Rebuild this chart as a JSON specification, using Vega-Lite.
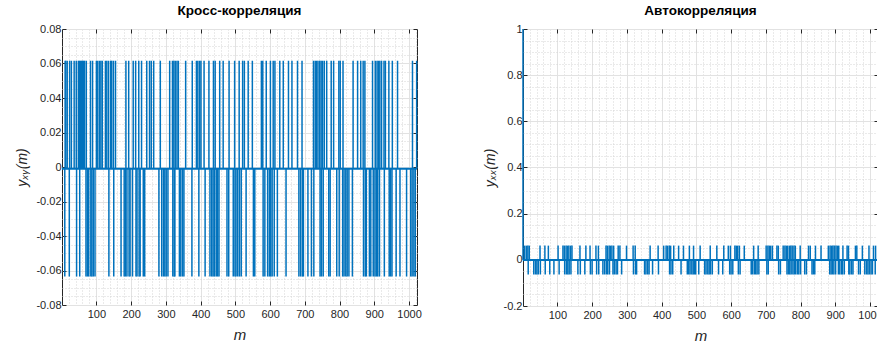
{
"$schema": "https://vega.github.io/schema/vega-lite/v6.json",
"padding": {"left": 15, "top": 3, "right": 0, "bottom": 0},
"spacing": 60,
"config": {
  "font": "Liberation Sans",
  "view": {"stroke": "#262626", "strokeWidth": 1},
  "axis": {"labelFont": "Liberation Sans", "labelFontSize": 11, "labelColor": "#262626", "tickColor": "#262626", "titleColor": "#262626", "titleFontWeight": "normal", "titleFontStyle": "italic", "domain": false, "labelFlush": false, "labelOverlap": false},
  "title": {"fontSize": 13.5, "fontWeight": "bold", "color": "#000000", "offset": 6, "font": "Liberation Sans"}
},
"datasets": {
"xy": [
{"m":1,"y":-0.001},{"m":1023,"y":-0.001},
{"m":10,"y":0.0616},{"m":12,"y":0.0616},{"m":16,"y":0.0616},{"m":23,"y":0.0616},{"m":28,"y":0.0616},{"m":36,"y":0.0616},{"m":42,"y":0.0616},{"m":48,"y":0.0616},{"m":51,"y":0.0616},{"m":54,"y":0.0616},{"m":57,"y":0.0616},{"m":60,"y":0.0616},{"m":63,"y":0.0616},{"m":66,"y":0.0616},{"m":71,"y":0.0616},{"m":83,"y":0.0616},{"m":89,"y":0.0616},{"m":100,"y":0.0616},{"m":104,"y":0.0616},{"m":109,"y":0.0616},{"m":113,"y":0.0616},{"m":117,"y":0.0616},{"m":126,"y":0.0616},{"m":130,"y":0.0616},{"m":135,"y":0.0616},{"m":141,"y":0.0616},{"m":144,"y":0.0616},{"m":149,"y":0.0616},{"m":155,"y":0.0616},{"m":185,"y":0.0616},{"m":193,"y":0.0616},{"m":206,"y":0.0616},{"m":213,"y":0.0616},{"m":222,"y":0.0616},{"m":230,"y":0.0616},{"m":245,"y":0.0616},{"m":253,"y":0.0616},{"m":258,"y":0.0616},{"m":265,"y":0.0616},{"m":284,"y":0.0616},{"m":311,"y":0.0616},{"m":319,"y":0.0616},{"m":323,"y":0.0616},{"m":327,"y":0.0616},{"m":332,"y":0.0616},{"m":336,"y":0.0616},{"m":357,"y":0.0616},{"m":376,"y":0.0616},{"m":388,"y":0.0616},{"m":392,"y":0.0616},{"m":397,"y":0.0616},{"m":401,"y":0.0616},{"m":410,"y":0.0616},{"m":424,"y":0.0616},{"m":437,"y":0.0616},{"m":442,"y":0.0616},{"m":455,"y":0.0616},{"m":465,"y":0.0616},{"m":482,"y":0.0616},{"m":498,"y":0.0616},{"m":511,"y":0.0616},{"m":521,"y":0.0616},{"m":526,"y":0.0616},{"m":537,"y":0.0616},{"m":549,"y":0.0616},{"m":575,"y":0.0616},{"m":579,"y":0.0616},{"m":589,"y":0.0616},{"m":601,"y":0.0616},{"m":609,"y":0.0616},{"m":614,"y":0.0616},{"m":628,"y":0.0616},{"m":638,"y":0.0616},{"m":653,"y":0.0616},{"m":663,"y":0.0616},{"m":679,"y":0.0616},{"m":692,"y":0.0616},{"m":725,"y":0.0616},{"m":730,"y":0.0616},{"m":734,"y":0.0616},{"m":738,"y":0.0616},{"m":743,"y":0.0616},{"m":747,"y":0.0616},{"m":751,"y":0.0616},{"m":756,"y":0.0616},{"m":763,"y":0.0616},{"m":776,"y":0.0616},{"m":783,"y":0.0616},{"m":798,"y":0.0616},{"m":802,"y":0.0616},{"m":810,"y":0.0616},{"m":839,"y":0.0616},{"m":852,"y":0.0616},{"m":861,"y":0.0616},{"m":868,"y":0.0616},{"m":873,"y":0.0616},{"m":895,"y":0.0616},{"m":903,"y":0.0616},{"m":908,"y":0.0616},{"m":912,"y":0.0616},{"m":916,"y":0.0616},{"m":921,"y":0.0616},{"m":928,"y":0.0616},{"m":932,"y":0.0616},{"m":942,"y":0.0616},{"m":952,"y":0.0616},{"m":967,"y":0.0616},{"m":1010,"y":0.0616},{"m":1022,"y":0.0616},
{"m":9,"y":-0.0635},{"m":22,"y":-0.0635},{"m":43,"y":-0.0635},{"m":52,"y":-0.0635},{"m":70,"y":-0.0635},{"m":74,"y":-0.0635},{"m":78,"y":-0.0635},{"m":84,"y":-0.0635},{"m":87,"y":-0.0635},{"m":91,"y":-0.0635},{"m":96,"y":-0.0635},{"m":136,"y":-0.0635},{"m":150,"y":-0.0635},{"m":171,"y":-0.0635},{"m":180,"y":-0.0635},{"m":184,"y":-0.0635},{"m":188,"y":-0.0635},{"m":194,"y":-0.0635},{"m":197,"y":-0.0635},{"m":204,"y":-0.0635},{"m":214,"y":-0.0635},{"m":217,"y":-0.0635},{"m":223,"y":-0.0635},{"m":226,"y":-0.0635},{"m":235,"y":-0.0635},{"m":239,"y":-0.0635},{"m":280,"y":-0.0635},{"m":288,"y":-0.0635},{"m":293,"y":-0.0635},{"m":297,"y":-0.0635},{"m":301,"y":-0.0635},{"m":306,"y":-0.0635},{"m":320,"y":-0.0635},{"m":324,"y":-0.0635},{"m":326,"y":-0.0635},{"m":339,"y":-0.0635},{"m":343,"y":-0.0635},{"m":348,"y":-0.0635},{"m":352,"y":-0.0635},{"m":375,"y":-0.0635},{"m":395,"y":-0.0635},{"m":413,"y":-0.0635},{"m":427,"y":-0.0635},{"m":432,"y":-0.0635},{"m":436,"y":-0.0635},{"m":440,"y":-0.0635},{"m":445,"y":-0.0635},{"m":449,"y":-0.0635},{"m":453,"y":-0.0635},{"m":476,"y":-0.0635},{"m":481,"y":-0.0635},{"m":494,"y":-0.0635},{"m":499,"y":-0.0635},{"m":502,"y":-0.0635},{"m":507,"y":-0.0635},{"m":512,"y":-0.0635},{"m":517,"y":-0.0635},{"m":531,"y":-0.0635},{"m":552,"y":-0.0635},{"m":556,"y":-0.0635},{"m":580,"y":-0.0635},{"m":585,"y":-0.0635},{"m":593,"y":-0.0635},{"m":598,"y":-0.0635},{"m":602,"y":-0.0635},{"m":606,"y":-0.0635},{"m":612,"y":-0.0635},{"m":621,"y":-0.0635},{"m":646,"y":-0.0635},{"m":683,"y":-0.0635},{"m":688,"y":-0.0635},{"m":693,"y":-0.0635},{"m":696,"y":-0.0635},{"m":709,"y":-0.0635},{"m":719,"y":-0.0635},{"m":726,"y":-0.0635},{"m":744,"y":-0.0635},{"m":748,"y":-0.0635},{"m":753,"y":-0.0635},{"m":769,"y":-0.0635},{"m":773,"y":-0.0635},{"m":792,"y":-0.0635},{"m":799,"y":-0.0635},{"m":809,"y":-0.0635},{"m":813,"y":-0.0635},{"m":818,"y":-0.0635},{"m":822,"y":-0.0635},{"m":827,"y":-0.0635},{"m":837,"y":-0.0635},{"m":869,"y":-0.0635},{"m":874,"y":-0.0635},{"m":877,"y":-0.0635},{"m":886,"y":-0.0635},{"m":890,"y":-0.0635},{"m":897,"y":-0.0635},{"m":902,"y":-0.0635},{"m":906,"y":-0.0635},{"m":910,"y":-0.0635},{"m":915,"y":-0.0635},{"m":929,"y":-0.0635},{"m":943,"y":-0.0635},{"m":947,"y":-0.0635},{"m":951,"y":-0.0635},{"m":963,"y":-0.0635},{"m":974,"y":-0.0635},{"m":993,"y":-0.0635},{"m":1005,"y":-0.0635},{"m":1009,"y":-0.0635},{"m":1014,"y":-0.0635},{"m":1018,"y":-0.0635}
],
"xx": [
{"m":1,"y":1},{"m":1023,"y":-0.001},
{"m":6,"y":0.0616},{"m":11,"y":0.0616},{"m":15,"y":0.0616},{"m":19,"y":0.0616},{"m":50,"y":0.0616},{"m":64,"y":0.0616},{"m":74,"y":0.0616},{"m":102,"y":0.0616},{"m":116,"y":0.0616},{"m":120,"y":0.0616},{"m":125,"y":0.0616},{"m":129,"y":0.0616},{"m":133,"y":0.0616},{"m":138,"y":0.0616},{"m":142,"y":0.0616},{"m":165,"y":0.0616},{"m":182,"y":0.0616},{"m":194,"y":0.0616},{"m":211,"y":0.0616},{"m":218,"y":0.0616},{"m":240,"y":0.0616},{"m":244,"y":0.0616},{"m":249,"y":0.0616},{"m":253,"y":0.0616},{"m":257,"y":0.0616},{"m":262,"y":0.0616},{"m":275,"y":0.0616},{"m":280,"y":0.0616},{"m":299,"y":0.0616},{"m":318,"y":0.0616},{"m":324,"y":0.0616},{"m":367,"y":0.0616},{"m":390,"y":0.0616},{"m":406,"y":0.0616},{"m":413,"y":0.0616},{"m":417,"y":0.0616},{"m":422,"y":0.0616},{"m":426,"y":0.0616},{"m":435,"y":0.0616},{"m":449,"y":0.0616},{"m":463,"y":0.0616},{"m":480,"y":0.0616},{"m":492,"y":0.0616},{"m":511,"y":0.0616},{"m":540,"y":0.0616},{"m":559,"y":0.0616},{"m":579,"y":0.0616},{"m":592,"y":0.0616},{"m":598,"y":0.0616},{"m":611,"y":0.0616},{"m":615,"y":0.0616},{"m":619,"y":0.0616},{"m":624,"y":0.0616},{"m":638,"y":0.0616},{"m":665,"y":0.0616},{"m":678,"y":0.0616},{"m":701,"y":0.0616},{"m":706,"y":0.0616},{"m":710,"y":0.0616},{"m":714,"y":0.0616},{"m":719,"y":0.0616},{"m":732,"y":0.0616},{"m":736,"y":0.0616},{"m":750,"y":0.0616},{"m":755,"y":0.0616},{"m":759,"y":0.0616},{"m":763,"y":0.0616},{"m":768,"y":0.0616},{"m":772,"y":0.0616},{"m":776,"y":0.0616},{"m":781,"y":0.0616},{"m":785,"y":0.0616},{"m":799,"y":0.0616},{"m":823,"y":0.0616},{"m":828,"y":0.0616},{"m":843,"y":0.0616},{"m":859,"y":0.0616},{"m":880,"y":0.0616},{"m":885,"y":0.0616},{"m":889,"y":0.0616},{"m":893,"y":0.0616},{"m":897,"y":0.0616},{"m":902,"y":0.0616},{"m":906,"y":0.0616},{"m":910,"y":0.0616},{"m":922,"y":0.0616},{"m":934,"y":0.0616},{"m":938,"y":0.0616},{"m":958,"y":0.0616},{"m":962,"y":0.0616},{"m":978,"y":0.0616},{"m":997,"y":0.0616},{"m":1010,"y":0.0616},{"m":1016,"y":0.0616},
{"m":16,"y":-0.0635},{"m":32,"y":-0.0635},{"m":37,"y":-0.0635},{"m":41,"y":-0.0635},{"m":45,"y":-0.0635},{"m":51,"y":-0.0635},{"m":65,"y":-0.0635},{"m":78,"y":-0.0635},{"m":90,"y":-0.0635},{"m":105,"y":-0.0635},{"m":121,"y":-0.0635},{"m":126,"y":-0.0635},{"m":130,"y":-0.0635},{"m":134,"y":-0.0635},{"m":139,"y":-0.0635},{"m":159,"y":-0.0635},{"m":166,"y":-0.0635},{"m":179,"y":-0.0635},{"m":195,"y":-0.0635},{"m":200,"y":-0.0635},{"m":213,"y":-0.0635},{"m":219,"y":-0.0635},{"m":231,"y":-0.0635},{"m":236,"y":-0.0635},{"m":241,"y":-0.0635},{"m":245,"y":-0.0635},{"m":250,"y":-0.0635},{"m":260,"y":-0.0635},{"m":264,"y":-0.0635},{"m":269,"y":-0.0635},{"m":273,"y":-0.0635},{"m":285,"y":-0.0635},{"m":319,"y":-0.0635},{"m":325,"y":-0.0635},{"m":328,"y":-0.0635},{"m":351,"y":-0.0635},{"m":355,"y":-0.0635},{"m":360,"y":-0.0635},{"m":364,"y":-0.0635},{"m":374,"y":-0.0635},{"m":391,"y":-0.0635},{"m":423,"y":-0.0635},{"m":427,"y":-0.0635},{"m":432,"y":-0.0635},{"m":456,"y":-0.0635},{"m":474,"y":-0.0635},{"m":478,"y":-0.0635},{"m":482,"y":-0.0635},{"m":487,"y":-0.0635},{"m":491,"y":-0.0635},{"m":495,"y":-0.0635},{"m":498,"y":-0.0635},{"m":507,"y":-0.0635},{"m":524,"y":-0.0635},{"m":528,"y":-0.0635},{"m":533,"y":-0.0635},{"m":537,"y":-0.0635},{"m":541,"y":-0.0635},{"m":546,"y":-0.0635},{"m":564,"y":-0.0635},{"m":576,"y":-0.0635},{"m":596,"y":-0.0635},{"m":600,"y":-0.0635},{"m":605,"y":-0.0635},{"m":621,"y":-0.0635},{"m":626,"y":-0.0635},{"m":658,"y":-0.0635},{"m":662,"y":-0.0635},{"m":667,"y":-0.0635},{"m":671,"y":-0.0635},{"m":675,"y":-0.0635},{"m":680,"y":-0.0635},{"m":703,"y":-0.0635},{"m":707,"y":-0.0635},{"m":737,"y":-0.0635},{"m":742,"y":-0.0635},{"m":761,"y":-0.0635},{"m":765,"y":-0.0635},{"m":769,"y":-0.0635},{"m":773,"y":-0.0635},{"m":778,"y":-0.0635},{"m":782,"y":-0.0635},{"m":786,"y":-0.0635},{"m":791,"y":-0.0635},{"m":795,"y":-0.0635},{"m":800,"y":-0.0635},{"m":812,"y":-0.0635},{"m":817,"y":-0.0635},{"m":833,"y":-0.0635},{"m":837,"y":-0.0635},{"m":841,"y":-0.0635},{"m":884,"y":-0.0635},{"m":888,"y":-0.0635},{"m":892,"y":-0.0635},{"m":896,"y":-0.0635},{"m":901,"y":-0.0635},{"m":909,"y":-0.0635},{"m":913,"y":-0.0635},{"m":918,"y":-0.0635},{"m":921,"y":-0.0635},{"m":926,"y":-0.0635},{"m":939,"y":-0.0635},{"m":942,"y":-0.0635},{"m":947,"y":-0.0635},{"m":951,"y":-0.0635},{"m":967,"y":-0.0635},{"m":972,"y":-0.0635},{"m":985,"y":-0.0635},{"m":990,"y":-0.0635},{"m":994,"y":-0.0635},{"m":998,"y":-0.0635},{"m":1003,"y":-0.0635},{"m":1007,"y":-0.0635},{"m":1015,"y":-0.0635}
]
},
"hconcat": [
{
  "title": "Кросс-корреляция",
  "width": 355, "height": 276,
  "data": {"name": "xy"},
  "layer": [
    {
      "mark": {"type": "line", "color": "#0072BD", "strokeWidth": 2},
      "encoding": {
        "x": {"field": "m", "type": "quantitative", "scale": {"domain": [1, 1023]},
              "axis": {"orient": "top", "values": [100,200,300,400,500,600,700,800,900,1000], "labels": false, "grid": false, "tickSize": -4, "title": null}},
        "y": {"datum": -0.001, "type": "quantitative", "scale": {"domain": [-0.08, 0.08]},
              "axis": {"orient": "right", "values": [-0.08,-0.06,-0.04,-0.02,0,0.02,0.04,0.06,0.08], "labels": false, "grid": false, "tickSize": -4, "title": null}}
      }
    },
    {
      "mark": {"type": "rule", "color": "#0072BD", "strokeWidth": 1.5},
      "encoding": {
        "x": {"field": "m", "type": "quantitative", "scale": {"domain": [1, 1023]},
              "axis": {"orient": "bottom", "values": [20,40,60,80,100,120,140,160,180,200,220,240,260,280,300,320,340,360,380,400,420,440,460,480,500,520,540,560,580,600,620,640,660,680,700,720,740,760,780,800,820,840,860,880,900,920,940,960,980,1000,1020],
                "format": "d", "labelExpr": "datum.value % 100 === 0 ? datum.label : ''",
                "tickSize": {"condition": {"test": "datum.value % 100 === 0", "value": -4}, "value": 0},
                "grid": true,
                "gridColor": {"condition": {"test": "datum.value % 100 === 0", "value": "#e2e2e2"}, "value": "#d4d4d4"},
                "gridDash": {"condition": {"test": "datum.value % 100 === 0", "value": []}, "value": [1, 2]},
                "labelPadding": 7, "title": "m", "titleFontSize": 15, "titlePadding": 4}},
        "y": {"field": "y", "type": "quantitative", "scale": {"domain": [-0.08, 0.08]},
              "axis": {"orient": "left", "values": [-0.08,-0.075,-0.07,-0.065,-0.06,-0.055,-0.05,-0.045,-0.04,-0.035,-0.03,-0.025,-0.02,-0.015,-0.01,-0.005,0,0.005,0.01,0.015,0.02,0.025,0.03,0.035,0.04,0.045,0.05,0.055,0.06,0.065,0.07,0.075,0.08],
                "labelExpr": "abs(datum.value*50 - round(datum.value*50)) < 0.01 ? (abs(datum.value) < 1e-9 ? '0' : (datum.value < 0 ? '-' : '') + format(abs(datum.value), '.2f')) : ''",
                "tickSize": {"condition": {"test": "abs(datum.value*50 - round(datum.value*50)) < 0.01", "value": -4}, "value": 0},
                "grid": true,
                "gridColor": {"condition": {"test": "abs(datum.value*50 - round(datum.value*50)) < 0.01", "value": "#e2e2e2"}, "value": "#d4d4d4"},
                "gridDash": {"condition": {"test": "abs(datum.value*50 - round(datum.value*50)) < 0.01", "value": []}, "value": [1, 2]},
                "labelPadding": 5, "title": "yₓᵧ(m)", "titleFontSize": 14, "titlePadding": 6}},
        "y2": {"datum": -0.001}
      }
    }
  ],
  "resolve": {"axis": {"x": "independent", "y": "independent"}}
},
{
  "title": "Автокорреляция",
  "width": 355, "height": 277,
  "data": {"name": "xx"},
  "layer": [
    {
      "mark": {"type": "line", "color": "#0072BD", "strokeWidth": 2},
      "encoding": {
        "x": {"field": "m", "type": "quantitative", "scale": {"domain": [1, 1023]},
              "axis": {"orient": "top", "values": [100,200,300,400,500,600,700,800,900,1000], "labels": false, "grid": false, "tickSize": -4, "title": null}},
        "y": {"datum": -0.001, "type": "quantitative", "scale": {"domain": [-0.2, 1]},
              "axis": {"orient": "right", "values": [-0.2,0,0.2,0.4,0.6,0.8,1], "labels": false, "grid": false, "tickSize": -4, "title": null}}
      }
    },
    {
      "mark": {"type": "rule", "color": "#0072BD", "strokeWidth": 1.5},
      "encoding": {
        "x": {"field": "m", "type": "quantitative", "scale": {"domain": [1, 1023]},
              "axis": {"orient": "bottom", "values": [20,40,60,80,100,120,140,160,180,200,220,240,260,280,300,320,340,360,380,400,420,440,460,480,500,520,540,560,580,600,620,640,660,680,700,720,740,760,780,800,820,840,860,880,900,920,940,960,980,1000,1020],
                "format": "d", "labelExpr": "datum.value % 100 === 0 ? datum.label : ''",
                "tickSize": {"condition": {"test": "datum.value % 100 === 0", "value": -4}, "value": 0},
                "grid": true,
                "gridColor": {"condition": {"test": "datum.value % 100 === 0", "value": "#e2e2e2"}, "value": "#d4d4d4"},
                "gridDash": {"condition": {"test": "datum.value % 100 === 0", "value": []}, "value": [1, 2]},
                "labelPadding": 7, "title": "m", "titleFontSize": 15, "titlePadding": 4}},
        "y": {"field": "y", "type": "quantitative", "scale": {"domain": [-0.2, 1]},
              "axis": {"orient": "left", "values": [-0.2,-0.15,-0.1,-0.05,0,0.05,0.1,0.15,0.2,0.25,0.3,0.35,0.4,0.45,0.5,0.55,0.6,0.65,0.7,0.75,0.8,0.85,0.9,0.95,1],
                "labelExpr": "abs(datum.value*5 - round(datum.value*5)) < 0.01 ? (abs(datum.value) < 1e-9 ? '0' : abs(datum.value - 1) < 1e-9 ? '1' : (datum.value < 0 ? '-' : '') + format(abs(datum.value), '.1f')) : ''",
                "tickSize": {"condition": {"test": "abs(datum.value*5 - round(datum.value*5)) < 0.01", "value": -4}, "value": 0},
                "grid": true,
                "gridColor": {"condition": {"test": "abs(datum.value*5 - round(datum.value*5)) < 0.01", "value": "#e2e2e2"}, "value": "#d4d4d4"},
                "gridDash": {"condition": {"test": "abs(datum.value*5 - round(datum.value*5)) < 0.01", "value": []}, "value": [1, 2]},
                "labelPadding": 5, "title": "yₓₓ(m)", "titleFontSize": 14, "titlePadding": 6}},
        "y2": {"datum": -0.001}
      }
    }
  ],
  "resolve": {"axis": {"x": "independent", "y": "independent"}}
}
]
}
